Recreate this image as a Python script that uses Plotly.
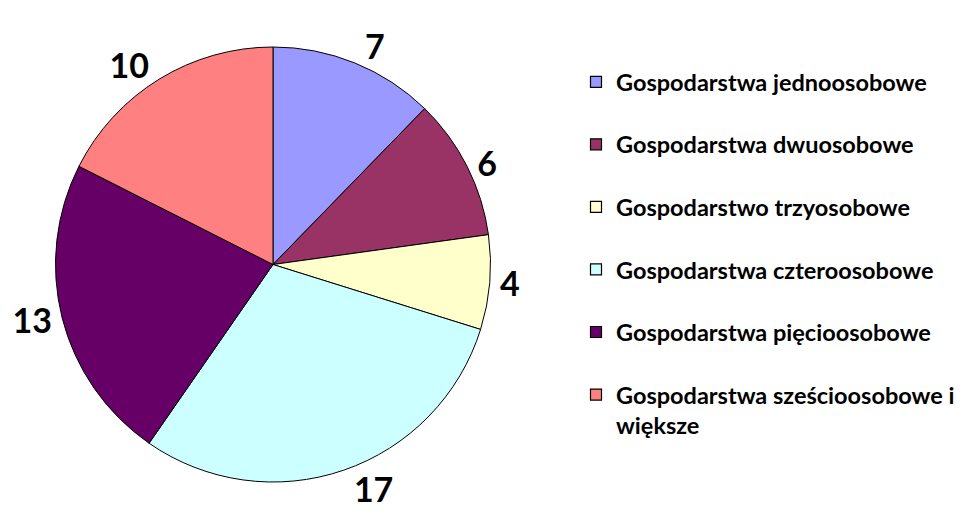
import plotly.graph_objects as go

categories = [
    "Gospodarstwa jednoosobowe",
    "Gospodarstwa dwuosobowe",
    "Gospodarstwo trzyosobowe",
    "Gospodarstwa czteroosobowe",
    "Gospodarstwa pięcioosobowe",
    "Gospodarstwa sześcioosobowe i<br>większe",
]
values = [7, 6, 4, 17, 13, 10]
colors = ["#9999FF", "#993366", "#FFFFCC", "#CCFFFF", "#660066", "#FF8080"]

FONT = "Lato"
W, H = 968, 529
OFF = 8  # page body margin

fig = go.Figure()
fig.add_trace(go.Pie(
    labels=categories,
    values=values,
    sort=False,
    direction="clockwise",
    rotation=0,
    marker=dict(colors=colors, line=dict(color="black", width=1)),
    textinfo="value",
    textposition="outside",
    outsidetextfont=dict(family=FONT, size=34, color="black", weight="bold"),
    showlegend=False,
    domain=dict(x=[(55.5 - OFF) / W, (490.5 - OFF) / W],
                y=[1 - (482 - OFF) / H, 1 - (47 - OFF) / H]),
    hoverinfo="label+value",
))

for i, (cat, col) in enumerate(zip(categories, colors)):
    fig.add_trace(go.Scatter(
        x=[None], y=[None],
        mode="markers",
        name=cat,
        legendgroup=f"g{i}",
        marker=dict(symbol="square", size=11, color=col, line=dict(color="black", width=1.2)),
    ))

fig.update_layout(
    width=W, height=H,
    margin=dict(l=0, r=0, t=0, b=0),
    paper_bgcolor="white",
    plot_bgcolor="white",
    xaxis=dict(visible=False),
    yaxis=dict(visible=False),
    font=dict(family=FONT),
    legend=dict(
        x=568 / W, y=1 - 52 / H,
        xanchor="left", yanchor="top",
        font=dict(family=FONT, size=23.5, color="black", weight="bold"),
        tracegroupgap=29,
        valign="top",
        bgcolor="rgba(0,0,0,0)",
    ),
)

fig.write_html("out.html")
